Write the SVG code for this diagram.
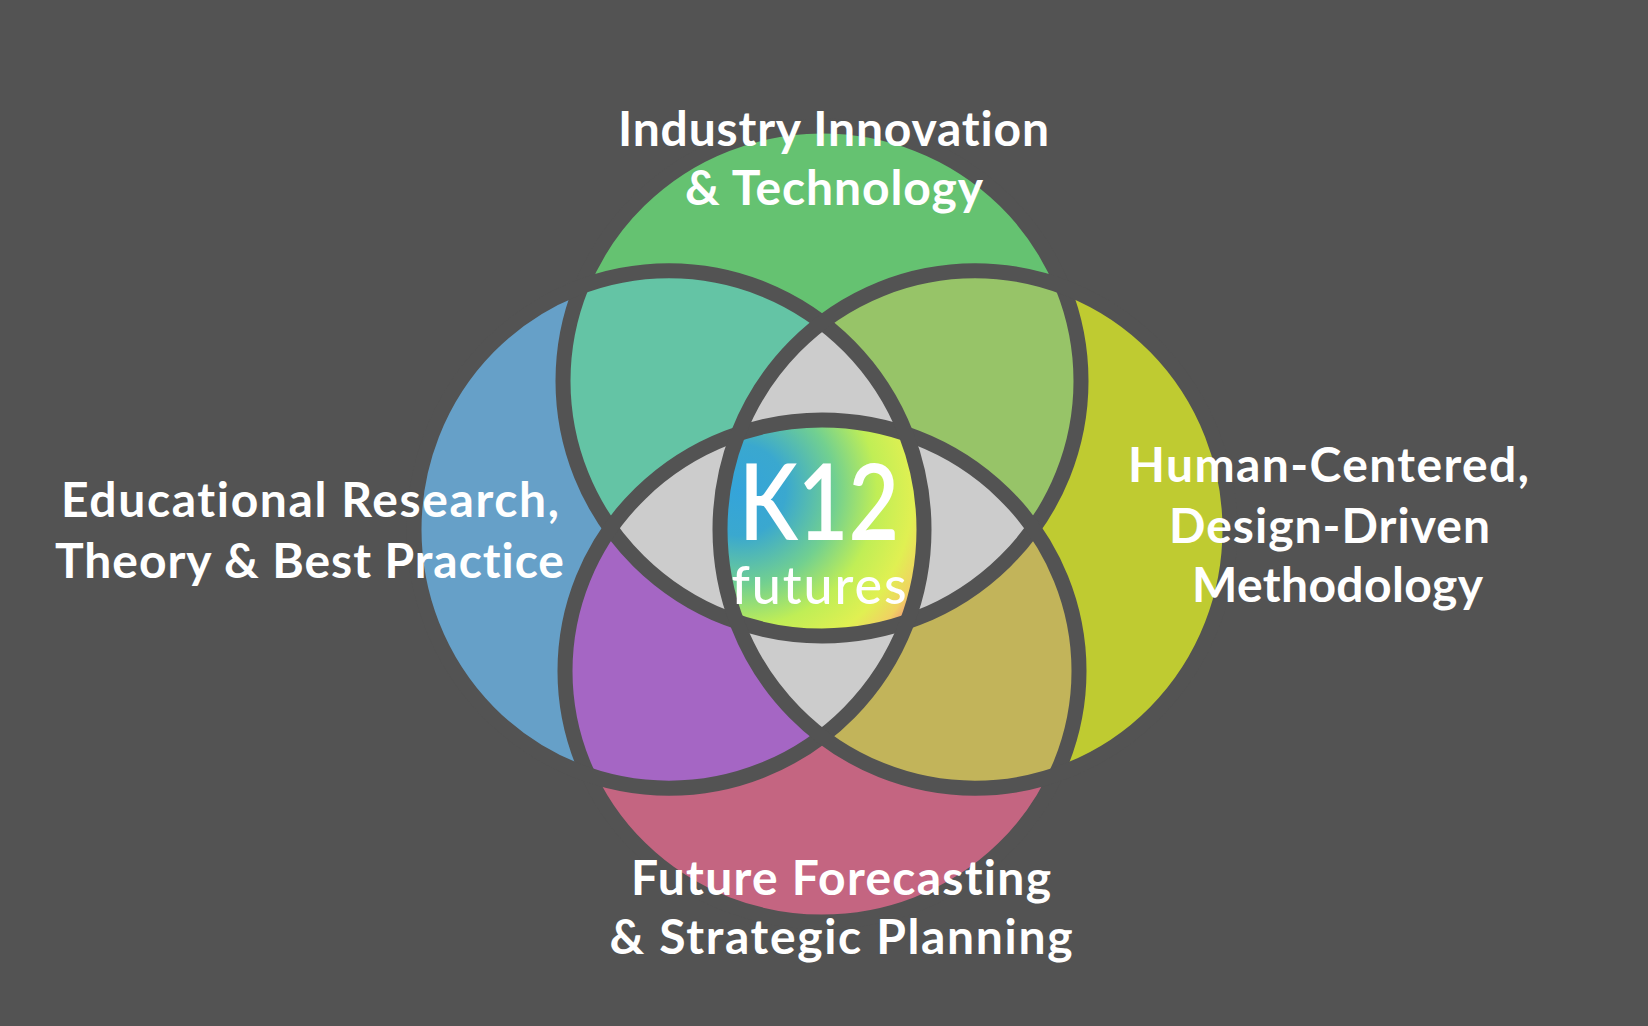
<svg xmlns="http://www.w3.org/2000/svg" xmlns:xlink="http://www.w3.org/1999/xlink" width="1648" height="1026" viewBox="0 0 1648 1026">
  <style>
    text { font-variant-ligatures: none; font-feature-settings: "liga" 0, "clig" 0; }
    .lbl { font-family: Lato, "Noto Sans", "DejaVu Sans", sans-serif; font-weight: 700; font-size: 48px; fill: #ffffff; text-anchor: middle; }
    .k12 { font-family: Lato, "Noto Sans", "DejaVu Sans", sans-serif; font-weight: 600; fill: #ffffff; text-anchor: middle; }
    .fut { font-family: Lato, "Noto Sans", "DejaVu Sans", sans-serif; font-weight: 500; fill: #ffffff; text-anchor: middle; }
    .band { fill: none; stroke: #535353; stroke-width: 15; }
    .faint { fill: none; stroke: #5e5e5e; stroke-width: 1.2; }
  </style>
  <defs>
    <ellipse id="eT" cx="822" cy="381" rx="259" ry="255"/>
    <ellipse id="eB" cx="822" cy="671" rx="257" ry="251"/>
    <ellipse id="eL" cx="669" cy="529.5" rx="255" ry="258.7"/>
    <ellipse id="eR" cx="975" cy="529.5" rx="255" ry="258.7"/>
    <clipPath id="cT"><use xlink:href="#eT"/></clipPath>
    <clipPath id="cB"><use xlink:href="#eB"/></clipPath>
    <clipPath id="cL"><use xlink:href="#eL"/></clipPath>
    <clipPath id="cR"><use xlink:href="#eR"/></clipPath>
    <mask id="outside" maskUnits="userSpaceOnUse" x="0" y="0" width="1648" height="1026">
      <rect x="0" y="0" width="1648" height="1026" fill="#fff"/>
      <use xlink:href="#eT" fill="#000"/>
      <use xlink:href="#eB" fill="#000"/>
      <use xlink:href="#eL" fill="#000"/>
      <use xlink:href="#eR" fill="#000"/>
    </mask>
    <radialGradient id="gCenter" gradientUnits="userSpaceOnUse" cx="740" cy="490" r="228" fx="740" fy="490">
      <stop offset="0" stop-color="#34A4DA"/>
      <stop offset="0.2" stop-color="#3AA8CF"/>
      <stop offset="0.42" stop-color="#72D090"/>
      <stop offset="0.6" stop-color="#C0EE56"/>
      <stop offset="0.76" stop-color="#E0F052"/>
      <stop offset="0.86" stop-color="#F0D262"/>
      <stop offset="0.97" stop-color="#F2668A"/>
    </radialGradient>
  </defs>

  <rect x="0" y="0" width="1648" height="1026" fill="#535353"/>

  <g id="faint-edges" mask="url(#outside)">
    <ellipse class="faint" cx="822" cy="381" rx="261.5" ry="257.5"/>
    <ellipse class="faint" cx="822" cy="671" rx="259.5" ry="253.5"/>
    <ellipse class="faint" cx="669" cy="529.5" rx="257.5" ry="261.2"/>
    <ellipse class="faint" cx="975" cy="529.5" rx="257.5" ry="261.2"/>
  </g>

  <g id="node-left">
    <use xlink:href="#eL" fill="#66A0C8"/>
  </g>
  <g id="node-right">
    <use xlink:href="#eR" fill="#BFCB31"/>
  </g>
  <g id="node-top">
    <use xlink:href="#eT" fill="#65C271"/>
  </g>
  <g id="node-bottom">
    <use xlink:href="#eB" fill="#C46581"/>
  </g>

  <g id="overlaps">
    <g clip-path="url(#cT)">
      <use xlink:href="#eL" fill="#64C4A5"/>
      <use xlink:href="#eR" fill="#97C468"/>
    </g>
    <g clip-path="url(#cB)">
      <use xlink:href="#eL" fill="#A566C4"/>
      <use xlink:href="#eR" fill="#C2B45A"/>
    </g>
    <g clip-path="url(#cL)">
      <use xlink:href="#eR" fill="#CCCCCC"/>
    </g>
    <g clip-path="url(#cT)">
      <use xlink:href="#eB" fill="#CCCCCC"/>
    </g>
  </g>

  <g id="node-center">
    <g clip-path="url(#cL)">
      <g clip-path="url(#cR)">
        <g clip-path="url(#cT)">
          <g clip-path="url(#cB)">
            <rect x="700" y="400" width="250" height="260" fill="url(#gCenter)"/>
          </g>
        </g>
      </g>
    </g>
  </g>

  <g id="connectors">
    <use xlink:href="#eT" class="band"/>
    <use xlink:href="#eB" class="band"/>
    <use xlink:href="#eL" class="band"/>
    <use xlink:href="#eR" class="band"/>
  </g>

  <g id="labels">
    <text class="k12" x="819" y="540" font-size="106" textLength="160" lengthAdjust="spacingAndGlyphs">K12</text>
    <text class="fut" x="819" y="604" font-size="52" textLength="175">futures</text>

    <text class="lbl" x="833.5" y="146" textLength="431">Industry Innovation</text>
    <text class="lbl" x="834" y="205" textLength="298">&amp; Technology</text>

    <text class="lbl" x="310" y="517" textLength="498">Educational Research,</text>
    <text class="lbl" x="309.5" y="578" textLength="509">Theory &amp; Best Practice</text>

    <text class="lbl" x="1328.5" y="482" textLength="401">Human-Centered,</text>
    <text class="lbl" x="1329.5" y="542.5" textLength="321">Design-Driven</text>
    <text class="lbl" x="1337.5" y="602" textLength="291">Methodology</text>

    <text class="lbl" x="841" y="895" textLength="420">Future Forecasting</text>
    <text class="lbl" x="841" y="954" textLength="463">&amp; Strategic Planning</text>
  </g>
</svg>
